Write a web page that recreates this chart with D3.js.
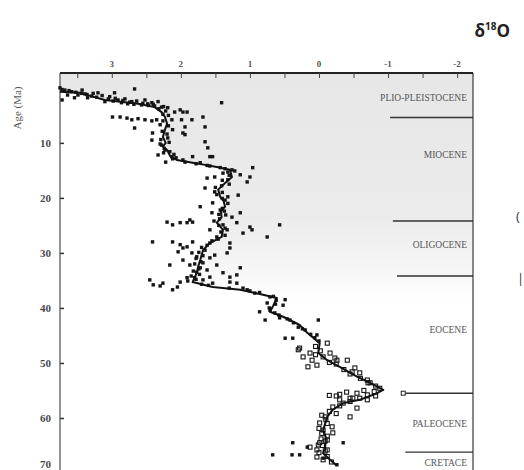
<!DOCTYPE html>
<html><head><meta charset="utf-8">
<script src="https://cdn.jsdelivr.net/npm/d3@7"></script>
<style>html,body{margin:0;padding:0;background:#fff;}svg{display:block;}</style>
</head><body>
<svg id="chart" width="524" height="470"></svg>
<script>
// ---- data (age in Ma, δ18O in ‰) ----
const curveAge = [0.7,0.9,1.5,2.2,2.9,3.5,4.4,5.3,6.5,7.6,8.9,10.0,10.7,11.3,12.5,13.1,13.6,14.0,14.4,14.9,16.2,17.3,18.5,19.8,20.6,21.6,22.5,23.5,24.5,25.8,27.1,28.2,29.5,31.3,32.5,33.6,35.3,36.2,36.7,37.6,38.2,39.8,40.7,41.6,43.1,44.5,46.4,48.2,49.5,50.7,52.5,53.6,54.9,55.5,56.7,57.3,58.5,59.8,62.2,63.5,65.3,66.4,67.6,68.7];
const curveD18 = [3.75,3.46,3.30,3.10,2.62,2.38,2.28,2.23,2.20,2.23,2.26,2.22,2.26,2.20,2.15,2.06,1.83,1.65,1.48,1.29,1.26,1.36,1.46,1.43,1.38,1.36,1.42,1.41,1.48,1.39,1.41,1.58,1.68,1.72,1.75,1.77,1.83,1.54,1.14,0.81,0.61,0.67,0.71,0.52,0.28,0.17,-0.01,0.01,-0.12,-0.30,-0.55,-0.74,-0.93,-0.84,-0.59,-0.35,-0.20,-0.12,-0.06,-0.10,-0.09,-0.06,-0.16,-0.26];

const filledPts = [
[0.0,3.75],[2.2,3.72],[1.3,3.64],[1.8,3.54],[0.4,3.43],[1.8,3.35],[0.9,3.20],[2.5,3.10],[0.9,2.96],[2.7,2.86],[2.5,2.71],[0.2,2.67],[3.1,2.57],[2.7,2.42],[2.5,2.33],[3.5,2.28],[2.7,1.41],
[0.4,3.68],[0.7,3.58],[1.3,3.49],[1.1,3.39],[1.5,3.29],[1.6,3.03],[2.2,2.91],[2.0,2.81],[2.9,2.77],[2.2,2.52],[2.9,2.48],[3.3,2.38],[3.6,2.19],
[0.3,3.72],[0.5,3.62],[0.8,3.52],[1.0,3.44],[1.2,3.36],[1.0,3.27],[1.7,3.22],[1.4,3.14],[2.0,3.05],[1.9,2.95],[2.4,2.98],[2.3,2.84],[2.6,2.74],[2.4,2.64],[3.0,2.68],[2.8,2.55],[3.2,2.47],[3.0,2.40],[3.8,2.32],[3.4,2.25],[4.2,2.22],[4.8,2.26],[5.0,2.18],
[5.3,2.99],[5.3,2.88],[5.5,2.78],[5.8,2.71],[5.6,2.62],[5.8,2.52],[6.0,2.42],[5.8,2.35],[7.3,2.67],
[4.4,2.09],[4.4,1.97],[5.8,2.13],[5.8,1.99],[5.8,1.84],[7.1,1.65],[8.2,1.97],[7.6,2.12],[9.8,1.65],[10.9,1.61],[8.2,2.41],[9.5,2.42],[11.3,2.23],[12.5,2.13],[12.2,2.33],[5.3,1.68],[7.1,1.94],[8.5,1.94],[12.5,1.54],[12.5,1.83],[4.0,2.01],[4.4,1.91],
[6.7,2.30],[9.1,2.19],[10.4,2.28],[11.6,2.16],[12.7,2.07],[13.5,2.22],
[6.0,2.26],[6.9,2.18],[7.9,2.27],[8.4,2.20],[9.4,2.29],[9.9,2.17],[10.2,2.30],[11.0,2.24],[11.8,2.25],[12.1,2.10],[12.9,2.12],
[14.5,0.96],[16.2,1.00],[17.1,1.04],[15.8,1.14],[14.9,1.26],[15.5,1.39],[16.4,1.62],[16.2,1.51],[18.2,1.65],[19.8,1.32],[19.5,1.17],[21.6,1.72],[20.9,1.54],[22.7,1.14],[23.5,1.26],[12.5,1.58],[22.7,1.55],[13.1,1.97],
[13.5,1.94],[13.6,1.72],[14.2,1.58],[14.5,1.43],[15.3,1.32],[16.7,1.32],[17.8,1.41],[18.9,1.51],[20.4,1.36],[22.2,1.43],[23.1,1.35],
[13.8,1.78],[14.1,1.62],[14.7,1.36],[15.1,1.22],[15.9,1.30],[16.8,1.40],[17.5,1.30],[18.1,1.50],[19.0,1.40],[19.4,1.48],[20.1,1.40],[21.0,1.32],[21.9,1.40],[22.4,1.37],[23.0,1.45],[23.8,1.44],[24.2,1.52],
[24.4,2.20],[24.9,2.12],[24.5,2.01],[24.5,1.91],[24.4,1.83],[24.5,1.19],[25.3,1.00],[25.8,0.97],[24.9,0.57],[27.1,0.75],[26.4,1.10],[25.8,1.33],[28.0,2.12],[28.5,2.01],[28.0,1.83],[28.2,1.58],[28.2,1.29],[29.8,2.04],[30.0,1.84],[28.0,2.41],[29.1,1.97],[27.1,1.48],[25.8,1.58],[24.9,1.39],[24.0,1.87],
[25.0,1.45],[25.5,1.36],[26.2,1.42],[26.8,1.36],[27.5,1.46],[27.8,1.55],[28.6,1.62],[29.0,1.70],[29.9,1.74],[30.5,1.68],[31.0,1.78],[31.6,1.71],[32.0,1.80],[32.9,1.74],[33.3,1.82],[33.9,1.73],[34.2,1.85],[34.8,1.78],[35.1,1.90],[35.7,1.70],[35.9,1.60],[36.0,2.30],[35.8,2.40],[36.2,2.05],
[28.9,1.91],[30.0,1.33],[29.1,1.29],[32.2,2.16],[31.3,1.97],[30.9,1.58],[32.2,1.48],[33.1,1.62],[34.4,1.58],[33.6,1.39],[34.4,1.29],[34.0,1.19],[32.7,1.14],[35.3,1.29],[35.5,1.19],[34.9,2.45],[35.5,2.26],[36.7,2.12],[35.3,2.01],[34.5,1.91],[33.5,1.77],[34.9,1.68],[35.5,1.54],[36.4,1.10],[36.7,1.04],[30.7,1.77],[31.8,1.68],[32.2,1.87],[32.7,1.72],[34.5,1.80],[29.5,1.65],[30.4,1.51],
[39.1,0.75],[38.5,0.49],[39.5,0.52],[40.7,0.86],[42.2,0.78],[40.4,0.71],[42.2,0.01],[45.5,0.49],[45.5,0.38],[44.9,0.03],
[37.3,0.93],[38.0,0.71],[41.8,0.57],[42.2,0.42],[43.5,0.30],[44.0,0.20],
[36.4,1.30],[36.9,1.00],[37.2,0.86],[37.9,0.66],[38.6,0.62],[39.3,0.63],[40.0,0.72],[40.9,0.64],[41.3,0.58],[42.0,0.46],[42.7,0.37],[43.8,0.24],[44.8,0.12],[45.4,0.06],[46.0,0.00],
[64.5,0.38],[65.3,0.17],[66.7,0.67],[66.7,0.39],[66.7,0.28],[68.5,-0.26],[67.3,-0.06],[64.5,-0.35]
];
const openPts = [
[47.6,0.30],[48.9,0.23],[49.5,0.10],[50.4,0.03],[50.7,0.16],[48.9,-0.06],[49.1,-0.23],[49.5,-0.41],[51.6,-0.48],[51.8,-0.59],[53.6,-0.71],[55.5,-0.55],[56.4,-0.45],[56.4,-0.59],[57.3,-0.35],[58.2,-0.55],[59.8,-0.45],[58.0,-0.20],[59.8,-0.09],[60.9,-0.01],[62.2,-0.06],[62.7,-0.20],[64.5,-0.01],[65.8,-0.12],[65.8,0.03],[67.1,0.03],[67.6,-0.06],[47.3,0.28],[48.2,0.13],[46.4,-0.12],[48.2,-0.16],[49.5,-0.26],[50.9,-0.52],[53.1,-0.70],[53.6,-0.74],[56.4,-0.49],[56.7,-0.70],[56.7,-0.30],[61.6,-0.19],[64.0,-0.12],[64.9,0.01],[65.3,0.13],[59.5,-0.04],
[47.0,0.05],[47.8,-0.02],[48.5,0.05],[49.9,-0.15],[50.2,-0.25],[51.2,-0.36],[52.0,-0.45],[52.8,-0.60],[54.2,-0.82],[54.6,-0.88],[55.2,-0.80],[55.8,-0.70],[56.0,-0.82],[57.0,-0.45],[57.8,-0.30],[58.8,-0.15],[59.2,-0.25],[60.3,-0.10],[61.0,-0.12],[61.9,0.00],[62.8,-0.04],[63.3,-0.12],[63.8,-0.03],[64.2,-0.09],[65.0,-0.05],[66.0,-0.09],[66.3,0.00],[67.0,-0.12],[68.0,-0.18],[55.0,-0.65],[55.3,-0.40],[55.7,-0.30],[56.0,-0.25],[55.9,-0.15]
];

const epochNames = ["PLIO-PLEISTOCENE","MIOCENE","OLIGOCENE","EOCENE","PALEOCENE","CRETACE"];
const epochLabelAge = [2.4,12.7,29.1,44.5,61.6,68.7];
const boundaryAge = [5.4,24.2,34.2,55.5,66.2];
const boundaryStartD18 = [-1.03,-1.07,-1.13,-1.22,-1.25];

const ageTicks = [10,20,30,40,50,60,70];
const d18Ticks = [3,2,1,0,-1,-2];
const d18MinorTicks = [3.5,3,2.5,2,1.5,1,0.5,0,-0.5,-1,-1.5,-2];

// ---- layout ----
const L = 60, R = 473, T = 73, B = 473;
const svg = d3.select("#chart");
const x = d3.scaleLinear().domain([3.75, -2.23]).range([L, R]);
const y = d3.scaleLinear().domain([-2.7, 70]).range([T, B]);

// gradient for shaded zone
const defs = svg.append("defs");
const grad = defs.append("linearGradient").attr("id","shade").attr("gradientUnits","userSpaceOnUse")
  .attr("x1",0).attr("x2",0).attr("y1",T).attr("y2",300);
grad.append("stop").attr("offset","0%").attr("stop-color","#e7e7e7");
grad.append("stop").attr("offset","62%").attr("stop-color","#ebebeb");
grad.append("stop").attr("offset","84%").attr("stop-color","#f5f5f5");
grad.append("stop").attr("offset","100%").attr("stop-color","#ffffff");

const curve = curveAge.map((a,i)=>[a, curveD18[i]]);
const areaPts = [[-2.7, 3.75]].concat(curve).concat([[70, curveD18[curveD18.length-1]]]);
svg.append("path")
  .datum(areaPts)
  .attr("d", d3.area().x0(d=>x(d[1])).x1(R).y(d=>y(d[0])))
  .attr("fill","url(#shade)");

// frame
svg.append("line").attr("x1",L).attr("x2",L).attr("y1",T).attr("y2",B).attr("stroke","#7a7a7a").attr("stroke-width",1.6);
svg.append("line").attr("x1",R).attr("x2",R).attr("y1",T).attr("y2",B).attr("stroke","#555").attr("stroke-width",1.4);
svg.append("line").attr("x1",L).attr("x2",R).attr("y1",T).attr("y2",T).attr("stroke","#222").attr("stroke-width",1.8);

// top axis
const topAxis = svg.append("g").attr("transform",`translate(0,${T})`)
  .call(d3.axisBottom(x).tickValues(d18MinorTicks).tickSize(5).tickFormat(""));
topAxis.select(".domain").remove();
topAxis.selectAll("line").attr("stroke","#444").attr("stroke-width",1);
svg.append("g").selectAll("text").data(d18Ticks).join("text")
  .attr("x",d=>x(d)).attr("y",T-6).attr("text-anchor","middle")
  .attr("font-family","Liberation Serif, serif").attr("font-size",9).attr("font-weight","bold")
  .attr("fill","#555").text(d=>d);

// left axis
const leftAxis = svg.append("g").attr("transform",`translate(${L},0)`)
  .call(d3.axisRight(y).tickValues(ageTicks).tickSize(4).tickFormat(""));
leftAxis.select(".domain").remove();
leftAxis.selectAll("line").attr("stroke","#333").attr("stroke-width",1.5);
svg.append("g").selectAll("text").data(ageTicks).join("text")
  .attr("x",L-9).attr("y",d=>Math.min(y(d)+4, 468)).attr("text-anchor","end")
  .attr("font-family","Liberation Serif, serif").attr("font-size",11).attr("font-weight","bold")
  .attr("fill","#4a4a4a").text(d=>d);
svg.append("text").attr("transform","translate(21,108) rotate(-90)").attr("text-anchor","middle")
  .attr("font-family","Liberation Serif, serif").attr("font-size",11).attr("fill","#555").text("Age (Ma)");

// epoch boundaries and labels
svg.append("g").selectAll("line").data(boundaryAge).join("line")
  .attr("x1",(d,i)=>x(boundaryStartD18[i])).attr("x2",R).attr("y1",d=>y(d)).attr("y2",d=>y(d))
  .attr("stroke","#333").attr("stroke-width",1.4);
svg.append("rect").attr("x",x(boundaryStartD18[3])-2).attr("y",y(boundaryAge[3])-2).attr("width",4).attr("height",4)
  .attr("fill","#fff").attr("stroke","#222").attr("stroke-width",1);
svg.append("g").selectAll("text").data(epochNames).join("text")
  .attr("x",467).attr("y",(d,i)=>y(epochLabelAge[i])).attr("text-anchor","end")
  .attr("font-family","Liberation Serif, serif").attr("font-size",9.5).attr("fill","#555").text(d=>d);

// points
svg.append("g").selectAll("rect").data(filledPts).join("rect")
  .attr("x",d=>x(d[1])-1.7).attr("y",d=>y(d[0])-1.7).attr("width",3.4).attr("height",3.4)
  .attr("fill","#151515");
svg.append("g").selectAll("rect").data(openPts).join("rect")
  .attr("x",d=>x(d[1])-2).attr("y",d=>y(d[0])-2).attr("width",4).attr("height",4)
  .attr("fill","none").attr("stroke","#151515").attr("stroke-width",1.1);

// smoothed curve
svg.append("path").datum(curve)
  .attr("d", d3.line().x(d=>x(d[1])).y(d=>y(d[0])))
  .attr("fill","none").attr("stroke","#111").attr("stroke-width",2).attr("stroke-linejoin","round");

// title
const title = svg.append("text").attr("x",510).attr("y",37).attr("text-anchor","end")
  .attr("font-family","Open Sans, sans-serif").attr("font-weight","bold").attr("font-size",17).attr("fill","#222");
title.append("tspan").text("δ");
title.append("tspan").attr("font-size",10).attr("dy",-7).text("18");
title.append("tspan").attr("dy",7).text("O");

// cut-off fragments at right margin
svg.append("text").attr("x",516).attr("y",221).attr("font-family","Open Sans, sans-serif").attr("font-size",13).attr("fill","#333").text("(");
svg.append("text").attr("x",517).attr("y",283).attr("font-family","Open Sans, sans-serif").attr("font-size",13).attr("fill","#333").text("|");
</script>
</body></html>
